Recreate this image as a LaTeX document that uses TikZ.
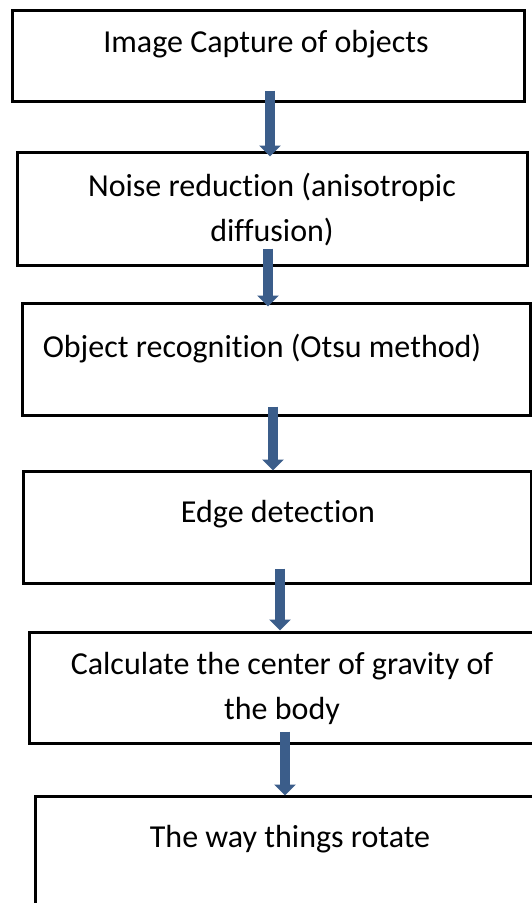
\documentclass[tikz,border=0pt]{standalone}
\usepackage{fontspec}
\setmainfont{Carlito}[RawFeature={-liga}]
\usetikzlibrary{arrows.meta}
\definecolor{flowblue}{RGB}{59,93,138}

\tikzset{
  procbox/.style={draw=black, line width=3pt, inner sep=0pt, fill=white},
  proctext/.style={align=center, inner sep=0pt, font=\fontsize{32}{45}\selectfont},
  flow/.style={draw=flowblue, line width=9.5pt, -{Triangle[width=21pt,length=11pt]}}
}

\begin{document}
\begin{tikzpicture}[x=1pt, y=-1pt]
\clip (0,0) rectangle (532,903);
\fill[white] (0,0) rectangle (532,903);

\node[procbox, minimum width=512pt, minimum height=91pt]  (cap)   at (268,55.5)  {};
\node[procbox, minimum width=510pt, minimum height=113pt] (noise) at (272,208.5) {};
\node[procbox, minimum width=508pt, minimum height=112pt] (recog) at (276,359)   {};
\node[procbox, minimum width=508pt, minimum height=112pt] (edge)  at (277,527)   {};
\node[procbox, minimum width=511pt, minimum height=111pt] (grav)  at (284.5,687.5) {};
\node[procbox, minimum width=510pt, minimum height=119pt] (rot)   at (290,855.5) {};

\node[proctext] (capt)   at (266,44)    {Image Capture of objects};
\node[proctext] (noiset) at (272,209.5) {Noise reduction (anisotropic\\diffusion)};
\node[proctext] (recogt) at (262,349)   {Object recognition (Otsu method)};
\node[proctext] (edget)  at (278,514)   {Edge detection};
\node[proctext] (gravt)  at (282,688.5) {Calculate the center of gravity of\\the body};
\node[proctext] (rott)   at (290,839)   {The way things rotate};

\draw[flow] ([xshift=2pt,yshift=12pt]cap.south)    -- ([xshift=-2pt,yshift=-6pt]noise.north);
\draw[flow] ([xshift=-4pt,yshift=18pt]noise.south) -- ([xshift=-8pt,yshift=-5pt]recog.north);
\draw[flow] ([xshift=-3pt,yshift=10pt]recog.south) -- ([xshift=-4pt,yshift=-1pt]edge.north);
\draw[flow] ([xshift=3pt,yshift=16pt]edge.south)   -- ([xshift=-4.5pt]grav.north);
\draw[flow] ([xshift=0.5pt,yshift=13pt]grav.south) -- ([xshift=-5pt,yshift=-1pt]rot.north);

\end{tikzpicture}
\end{document}
